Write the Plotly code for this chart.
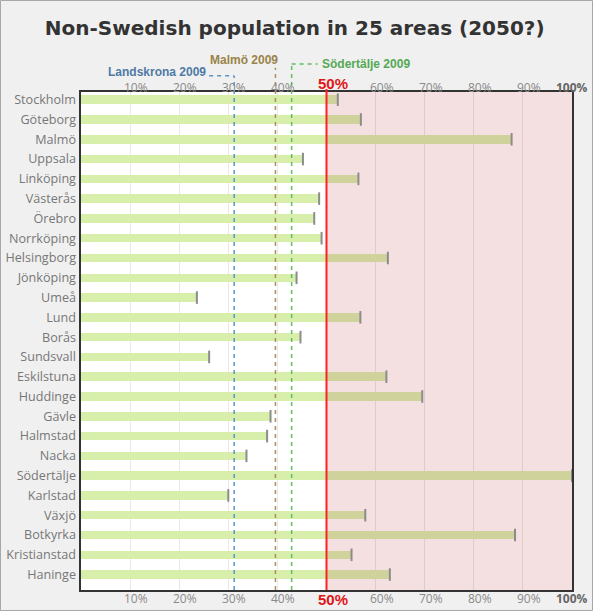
import plotly.graph_objects as go

# ---------------- data ----------------
areas = ["Stockholm", "Göteborg", "Malmö", "Uppsala", "Linköping", "Västerås",
         "Örebro", "Norrköping", "Helsingborg", "Jönköping", "Umeå", "Lund",
         "Borås", "Sundsvall", "Eskilstuna", "Huddinge", "Gävle", "Halmstad",
         "Nacka", "Södertälje", "Karlstad", "Växjö", "Botkyrka", "Kristianstad",
         "Haninge"]
share_2050 = [52.3, 57.0, 87.7, 45.2, 56.5, 48.5, 47.5, 49.0, 62.5, 43.9,
              23.6, 56.9, 44.7, 26.1, 62.2, 69.5, 38.6, 37.9, 33.7, 100.0,
              30.0, 57.9, 88.4, 55.1, 62.9]
threshold = 50
ref_labels = ["Landskrona 2009", "Malmö 2009", "Södertälje 2009"]
ref_values = [31.2, 39.6, 42.9]
tick_values = [10, 20, 30, 40, 50, 60, 70, 80, 90, 100]
tick_labels = ["10%", "20%", "30%", "40%", "50%", "60%", "70%", "80%", "90%", "100%"]

# ---------------- styles ----------------
GREEN = "#d7efaa"
OLIVE = "#cfd39b"
PINK = "#f5e0e1"
PAGE = "#f0f0f0"
END = "#8c8c8c"
ref_colors = ["#4f7aa6", "#9a8348", "#55a855"]
line_colors = ["#5b93c8", "#a88f5c", "#5fbf5f"]

below = [min(v, threshold) for v in share_2050]
above = [max(v - threshold, 0) for v in share_2050]

fig = go.Figure()
fig.add_trace(go.Bar(y=areas, x=below, orientation="h", width=0.43,
                     marker=dict(color=GREEN, line=dict(width=0)),
                     hoverinfo="skip", showlegend=False))
fig.add_trace(go.Bar(y=areas, x=above, orientation="h", width=0.43,
                     marker=dict(color=OLIVE, line=dict(width=0)),
                     hoverinfo="skip", showlegend=False))
fig.add_trace(go.Scatter(y=areas, x=share_2050, mode="markers",
                         marker=dict(symbol="line-ns-open", size=9, color=END,
                                     line=dict(width=2, color=END)),
                         hoverinfo="skip", showlegend=False, cliponaxis=False))

shapes = []
# pink region beyond threshold
shapes.append(dict(type="rect", xref="x", yref="paper", x0=threshold, x1=100,
                   y0=0, y1=1, fillcolor=PINK, line=dict(width=0), layer="below"))
# threshold line
shapes.append(dict(type="line", xref="x", yref="paper", x0=threshold, x1=threshold,
                   y0=0, y1=1.006, line=dict(color="#ff2020", width=2), layer="above"))

# reference lines (vertical parts reach above the plot to their labels)
ref_tops = [1.0327, 1.0488, 1.056]
for v, top, c in zip(ref_values, ref_tops, line_colors):
    shapes.append(dict(type="line", xref="x", yref="paper", x0=v, x1=v,
                       y0=0, y1=top, line=dict(color=c, width=1.5, dash="4px,4px"),
                       layer="above"))
# horizontal connector pieces
shapes.append(dict(type="line", xref="x", yref="paper", x0=ref_values[0] - 5.1,
                   x1=ref_values[0], y0=ref_tops[0], y1=ref_tops[0],
                   line=dict(color=line_colors[0], width=1.5, dash="4px,4px")))
shapes.append(dict(type="line", xref="x", yref="paper", x0=ref_values[2],
                   x1=ref_values[2] + 5.3, y0=ref_tops[2], y1=ref_tops[2],
                   line=dict(color=line_colors[2], width=1.5, dash="4px,4px")))

# outer page border
pw = 491.0
ph = 498.0
shapes.append(dict(type="rect", xref="paper", yref="paper",
                   x0=-81 / pw + 0.5 / pw, x1=1 + 20.5 / pw,
                   y0=-21 / ph + 0.5 / ph, y1=1 + 92 / ph - 0.5 / ph,
                   line=dict(color="#a8a8a8", width=1), fillcolor="rgba(0,0,0,0)"))

annotations = []
for v, lab in zip(tick_values, tick_labels):
    if v == threshold:
        f = dict(family="Liberation Sans", size=15, color="#e01515")
        txt = "<b>%s</b>" % lab
        xs, ys_top, ys_bot = 6, 9, -9
    elif v == 100:
        f = dict(family="Open Sans", size=12, color="#666666")
        txt = "<b>%s</b>" % lab
        xs, ys_top, ys_bot = 0, 5, -8
    else:
        f = dict(family="Open Sans", size=12, color="#8a8a8a")
        txt = lab
        xs, ys_top, ys_bot = 6, 5, -8
    annotations.append(dict(x=v, y=1, xref="x", yref="paper", text=txt, showarrow=False,
                            xanchor="center", yanchor="middle", xshift=xs, yshift=ys_top,
                            font=f))
    annotations.append(dict(x=v, y=0, xref="x", yref="paper", text=txt, showarrow=False,
                            xanchor="center", yanchor="middle", xshift=xs, yshift=ys_bot,
                            font=f))

ref_font = dict(family="Liberation Sans", size=12)
annotations.append(dict(x=ref_values[0] - 5.3, y=1.0407, xref="x", yref="paper",
                        text="<b>%s</b>" % ref_labels[0], showarrow=False,
                        xanchor="right", yanchor="middle",
                        font=dict(ref_font, color=ref_colors[0])))
annotations.append(dict(x=ref_values[1], y=1.0643, xref="x", yref="paper",
                        text="<b>%s</b>" % ref_labels[1], showarrow=False,
                        xanchor="right", yanchor="middle", xshift=5,
                        font=dict(ref_font, color=ref_colors[1])))
annotations.append(dict(x=ref_values[2] + 5.8, y=1.0562, xref="x", yref="paper",
                        text="<b>%s</b>" % ref_labels[2], showarrow=False,
                        xanchor="left", yanchor="middle",
                        font=dict(ref_font, color=ref_colors[2])))

fig.update_layout(
    width=593, height=611,
    margin=dict(l=81, r=21, t=92, b=21, autoexpand=False),
    paper_bgcolor=PAGE, plot_bgcolor="white",
    barmode="stack", bargap=0,
    title=dict(text="<b>Non-Swedish population in 25 areas (2050?)</b>",
               x=0.497, xanchor="center", y=0.954, yanchor="middle",
               font=dict(family="DejaVu Sans", size=20, color="#333333")),
    shapes=shapes, annotations=annotations,
    xaxis=dict(range=[0, 100], tickvals=tick_values, showticklabels=False,
               showgrid=True, gridcolor="rgba(0,0,0,0.09)", gridwidth=1,
               zeroline=False, showline=True, linecolor="#333333", linewidth=2,
               mirror=True, ticks="", fixedrange=True, automargin=False),
    yaxis=dict(type="category", categoryorder="array", categoryarray=areas,
               range=[24.78, -0.39], showgrid=False, zeroline=False, automargin=False,
               showline=True, linecolor="#333333", linewidth=2, mirror=True,
               ticks="outside", ticklen=0.5, tickcolor="rgba(0,0,0,0)",
               tickfont=dict(family="Open Sans", size=12.6, color="#777777")),
)

fig.write_html("out.html", post_script="document.body.style.margin='0';",
               config={"displayModeBar": False})
